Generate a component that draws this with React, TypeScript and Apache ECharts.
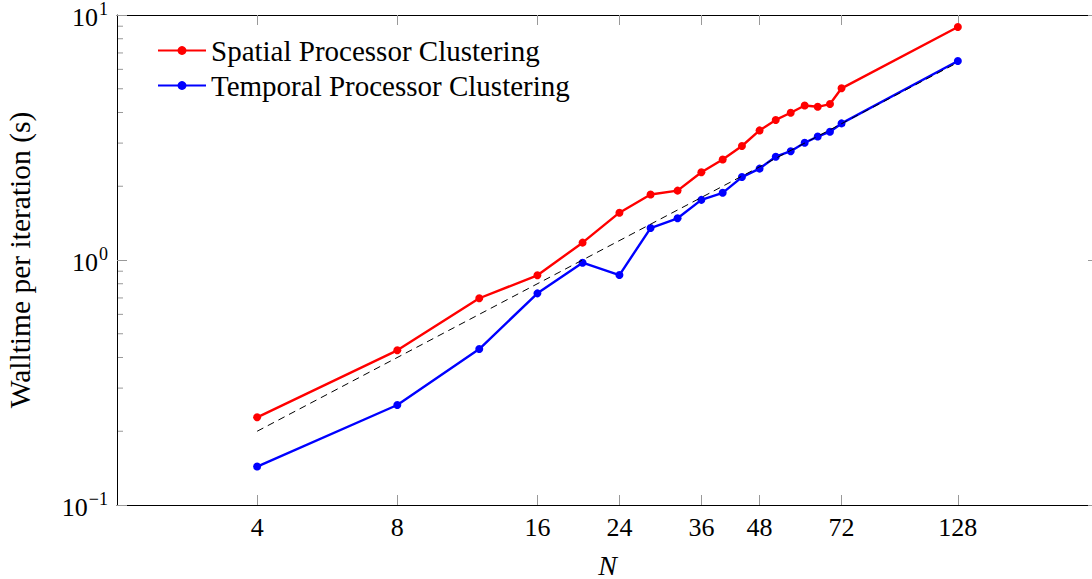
import React, { useEffect, useRef } from "react";
import * as echarts from "echarts";

const nValues = [4, 8, 12, 16, 20, 24, 28, 32, 36, 40, 44, 48, 52, 56, 60, 64, 68, 72, 128];
const spatial = [0.228, 0.428, 0.698, 0.866, 1.177, 1.56, 1.85, 1.92, 2.28, 2.57, 2.92, 3.38, 3.73, 3.99, 4.27, 4.22, 4.33, 5.02, 8.93];
const temporal = [0.1435, 0.256, 0.433, 0.731, 0.975, 0.868, 1.35, 1.48, 1.76, 1.88, 2.18, 2.36, 2.64, 2.78, 3.01, 3.19, 3.34, 3.61, 6.49];
const idealN = [4, 128];
const idealT = [0.2, 6.4];
const xTicks = [4, 8, 16, 24, 36, 48, 72, 128];
const yTicks = [0.1, 1, 10];
const yMinor = [0.2, 0.3, 0.4, 0.5, 0.6, 0.7, 0.8, 0.9, 2, 3, 4, 5, 6, 7, 8, 9];
const seriesNames = ["Spatial Processor Clustering", "Temporal Processor Clustering"];

const FONT = "'Liberation Serif', 'Times New Roman', serif";
const TICK = "#999";

export default function App() {
  const ref = useRef<HTMLDivElement>(null);
  useEffect(() => {
    if (!ref.current) return;
    const chart = echarts.init(ref.current, null, { renderer: "svg" });
    const gridLeft = 117, gridTop = 15, gridW = 981, gridH = 490;
    const xCommon = {
      type: "log" as const,
      logBase: 2,
      min: 2,
      max: 256,
      splitLine: { show: false },
      axisLine: { lineStyle: { color: "#000", width: 1 } },
      axisTick: { inside: true, length: 10, customValues: xTicks, lineStyle: { color: TICK } },
      minorTick: { show: false },
    };
    const yCommon = {
      type: "log" as const,
      logBase: 10,
      min: 0.1,
      max: 10,
      splitLine: { show: false },
      axisLine: { lineStyle: { color: "#000", width: 1 } },
      axisTick: { inside: true, length: 10, customValues: yTicks, lineStyle: { color: TICK } },
    };
    const mk = (name: string, data: number[], color: string) => ({
      name,
      type: "line",
      data: nValues.map((n, i) => [n, data[i]]),
      symbol: "circle",
      symbolSize: 8,
      lineStyle: { color, width: 2.4 },
      itemStyle: { color },
      z: 2,
    });
    chart.setOption({
      animation: false,
      backgroundColor: "#fff",
      grid: {
        left: gridLeft,
        top: gridTop,
        width: gridW,
        height: gridH,
        containLabel: false,
        outerBoundsMode: "none",
      },
      legend: {
        data: seriesNames,
        orient: "vertical",
        left: 152,
        top: 31,
        itemWidth: 48,
        itemHeight: 11,
        itemGap: 6,
        textStyle: { fontFamily: FONT, fontSize: 29, color: "#000" },
      },
      xAxis: [
        {
          ...xCommon,
          position: "bottom",
          name: "N",
          nameLocation: "middle",
          nameGap: 46,
          nameTextStyle: { fontFamily: FONT, fontSize: 28, fontStyle: "italic", color: "#000" },
          axisLabel: {
            customValues: xTicks,
            fontFamily: FONT,
            fontSize: 26,
            color: "#000",
            margin: 9,
            formatter: (v: number) => String(Math.round(v)),
          },
        },
        { ...xCommon, position: "top", axisLabel: { show: false } },
      ],
      yAxis: [
        {
          ...yCommon,
          position: "left",
          name: "Walltime per iteration (s)",
          nameLocation: "middle",
          nameGap: 82,
          nameTextStyle: { fontFamily: FONT, fontSize: 29.5, color: "#000" },
          axisLabel: {
            customValues: yTicks,
            margin: 9,
            formatter: (v: number) => {
              const e = Math.round(Math.log10(v));
              return `{b|10}{s|${e < 0 ? "\u2212" : ""}${Math.abs(e)}}`;
            },
            rich: {
              b: { fontFamily: FONT, fontSize: 26, color: "#000", lineHeight: 30, verticalAlign: "bottom" },
              s: { fontFamily: FONT, fontSize: 18, color: "#000", lineHeight: 30, verticalAlign: "top", padding: [0, 0, 0, 1] },
            },
          },
        },
        { ...yCommon, position: "right", axisLabel: { show: false } },
      ],
      series: [
        mk(seriesNames[0], spatial, "#ff0000"),
        mk(seriesNames[1], temporal, "#0000ff"),
        {
          name: "ideal",
          type: "line",
          data: idealN.map((n, i) => [n, idealT[i]]),
          symbol: "none",
          lineStyle: { color: "#000", width: 1, type: [7, 5] },
          z: 3,
          silent: true,
        },
      ],
    });
    const graphics: any[] = [];
    yMinor.forEach((v) => {
      const py = chart.convertToPixel({ yAxisIndex: 0 }, v) as number;
      graphics.push({
        type: "line",
        shape: { x1: gridLeft, y1: py, x2: gridLeft + 6, y2: py },
        style: { stroke: TICK, lineWidth: 1 },
        silent: true,
      });
      graphics.push({
        type: "line",
        shape: { x1: gridLeft + gridW - 6, y1: py, x2: gridLeft + gridW, y2: py },
        style: { stroke: TICK, lineWidth: 1 },
        silent: true,
      });
    });
    chart.setOption({ graphic: graphics });
    return () => chart.dispose();
  }, []);
  return <div ref={ref} style={{ position: "fixed", left: 0, top: 0, width: 1092, height: 579 }} />;
}
